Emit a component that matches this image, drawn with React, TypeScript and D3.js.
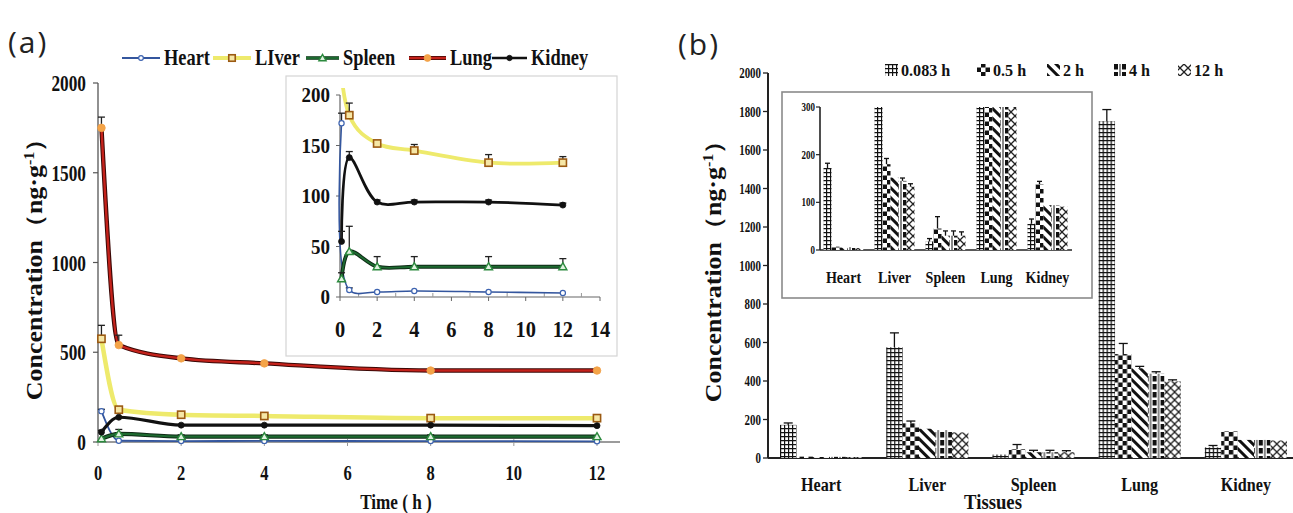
import React from 'react';
import * as d3 from 'd3';

// ---------------- data ----------------
const times = [0.083, 0.5, 2, 4, 8, 12];
const tissueNames = ['Heart', 'Liver', 'Spleen', 'Lung', 'Kidney'];
const legendLabelsA = ['Heart', 'LIver', 'Spleen', 'Lung', 'Kidney'];

const heart = [172, 7, 5, 6, 5, 4];
const heartSd = [10, 2, 1, 1, 1, 1];
const liver = [575, 180, 152, 145, 133, 133];
const liverSd = [75, 12, 3, 6, 8, 6];
const spleen = [18, 45, 30, 30, 30, 30];
const spleenSd = [6, 25, 10, 10, 10, 8];
const lung = [1750, 540, 466, 438, 398, 398];
const lungSd = [60, 55, 10, 10, 8, 8];
const kidney = [55, 138, 94, 94, 94, 91];
const kidneySd = [10, 6, 2, 2, 2, 2];

const barTimeIndex = [0, 1, 2, 3, 5];
const barLegendLabels = ['0.083 h', '0.5 h', '2 h', '4 h', '12 h'];

const yTicksA = [0, 500, 1000, 1500, 2000];
const xTicksA = [0, 2, 4, 6, 8, 10, 12];
const yTicksAInset = [0, 50, 100, 150, 200];
const xTicksAInset = [0, 2, 4, 6, 8, 10, 12, 14];
const yTicksB = [0, 200, 400, 600, 800, 1000, 1200, 1400, 1600, 1800, 2000];
const yTicksBInset = [0, 100, 200, 300];

const seriesValues = [heart, liver, spleen, lung, kidney];
const seriesSd = [heartSd, liverSd, spleenSd, lungSd, kidneySd];

// ---------------- styles ----------------
const SERIF = '"Liberation Serif", "Times New Roman", serif';
const seriesStyle = [
  { line: '#34569e', under: null, width: 1.8, marker: 'circle', mStroke: '#3d63b0', mFill: '#ffffff', mSize: 2.6 },
  { line: '#eeea6c', under: null, width: 4.5, marker: 'square', mStroke: '#9b5a12', mFill: '#f6e7a6', mSize: 3.6 },
  { line: '#1d6a30', under: '#0f2a16', width: 2.2, marker: 'triangle', mStroke: '#2c8a3e', mFill: '#dff1df', mSize: 4 },
  { line: '#c4221b', under: '#3b0806', width: 2.4, marker: 'dot', mStroke: '#f0a048', mFill: '#f4a448', mSize: 3.8 },
  { line: '#111111', under: null, width: 3.2, marker: 'dot', mStroke: '#111', mFill: '#111', mSize: 3 },
];
const patternIds = ['pGrid', 'pCheck', 'pDiag', 'pBlock', 'pLattice'];

// condensed text helper
function CT(props: any) {
  const { x, y, sx = 0.78, size, anchor = 'middle', weight = 'bold', family = SERIF, rotate = 0, fill = '#111', children } = props;
  const tr = `translate(${x},${y}) scale(${sx},1)` + (rotate ? ` rotate(${rotate})` : '');
  return (
    <text transform={tr} fontSize={size} textAnchor={anchor} fontWeight={weight} fontFamily={family} fill={fill}>
      {children}
    </text>
  );
}

function Marker({ type, x, y, st, scale = 1 }: any) {
  const s = st.mSize * scale;
  if (type === 'circle') return <circle cx={x} cy={y} r={s} fill={st.mFill} stroke={st.mStroke} strokeWidth={1.2} />;
  if (type === 'square') return <rect x={x - s} y={y - s} width={2 * s} height={2 * s} fill={st.mFill} stroke={st.mStroke} strokeWidth={1.6} />;
  if (type === 'triangle')
    return <path d={`M${x},${y - s} L${x + s},${y + s * 0.75} L${x - s},${y + s * 0.75} Z`} fill={st.mFill} stroke={st.mStroke} strokeWidth={1.4} />;
  return <circle cx={x} cy={y} r={s} fill={st.mFill} stroke={st.mStroke} strokeWidth={0.8} />;
}

function ErrUp({ x, y0, y1, w = 7, color = '#222' }: any) {
  if (Math.abs(y0 - y1) < 1.5) return null;
  return (
    <g stroke={color} strokeWidth={1.3}>
      <line x1={x} x2={x} y1={y0} y2={y1} />
      <line x1={x - w / 2} x2={x + w / 2} y1={y1} y2={y1} />
    </g>
  );
}

function SeriesLines({ xs, ys, scale = 1, thin = false, curve }: any) {
  return (
    <g>
      {seriesValues.map((vals, si) => {
        const st = seriesStyle[si];
        const gen = d3
          .line<number>()
          .x((_, i) => xs(times[i]))
          .y((d) => ys(d))
          .curve(curve);
        const d = gen(vals) as string;
        const w = thin ? st.width * 0.85 : st.width;
        return (
          <g key={si}>
            {st.under && <path d={d} fill="none" stroke={st.under} strokeWidth={w + 2} />}
            <path d={d} fill="none" stroke={st.line} strokeWidth={w} strokeLinejoin="round" />
            {vals.map((v, i) => (
              <ErrUp key={'e' + i} x={xs(times[i])} y0={ys(v)} y1={ys(v + seriesSd[si][i])} />
            ))}
            {vals.map((v, i) => (
              <Marker key={'m' + i} type={st.marker} x={xs(times[i])} y={ys(v)} st={st} scale={scale} />
            ))}
          </g>
        );
      })}
    </g>
  );
}

function PanelA() {
  const xA = d3.scaleLinear().domain([0, 12]).range([98, 597]);
  const yA = d3.scaleLinear().domain([0, 2000]).range([442, 83]);
  const xAi = d3.scaleLinear().domain([0, 14]).range([340, 600]);
  const yAi = d3.scaleLinear().domain([0, 200]).range([297, 95]);
  const legendX = [122, 213, 306, 409, 492];
  const legendLineW = [38, 38, 33, 37, 35];

  return (
    <g>
      <text x={8} y={53} fontSize={30} fontFamily='"Open Sans", sans-serif' fill="#222" letterSpacing={2}>
        (a)
      </text>

      {/* legend */}
      {legendLabelsA.map((lab, i) => {
        const st = seriesStyle[i];
        const x0 = legendX[i];
        const w = legendLineW[i];
        return (
          <g key={lab}>
            {st.under && <line x1={x0} x2={x0 + w} y1={58} y2={58} stroke={st.under} strokeWidth={st.width + 1.5} />}
            <line x1={x0} x2={x0 + w} y1={58} y2={58} stroke={st.line} strokeWidth={i === 1 ? 4 : i === 0 ? 1.8 : 2.6} />
            <Marker type={st.marker} x={x0 + w / 2} y={58} st={st} scale={0.9} />
            <CT x={x0 + w + 4} y={65} size={23} anchor="start" sx={0.8}>
              {lab}
            </CT>
          </g>
        );
      })}

      {/* main axes */}
      <line x1={98} x2={620} y1={yA(0)} y2={yA(0)} stroke="#7a7a7a" strokeWidth={1.3} />
      <line x1={98} x2={98} y1={yA(0)} y2={yA(2000)} stroke="#555" strokeWidth={1.3} />
      {yTicksA.map((t) => (
        <g key={t}>
          <line x1={93} x2={98} y1={yA(t)} y2={yA(t)} stroke="#555" strokeWidth={1.2} />
          <CT x={86} y={yA(t) + 8} size={24} anchor="end" sx={0.72}>
            {t}
          </CT>
        </g>
      ))}
      {xTicksA.map((t) => (
        <g key={t}>
          <line x1={xA(t)} x2={xA(t)} y1={yA(0) - 3} y2={yA(0) + 4} stroke="#999" strokeWidth={1} />
          <CT x={xA(t)} y={480} size={22} sx={0.75}>
            {t}
          </CT>
        </g>
      ))}
      <CT x={396} y={509} size={22} sx={0.78}>
        Time ( h )
      </CT>
      <CT x={42} y={263} size={26} sx={0.85} rotate={-90}>
        Concentration（ng·g
        <tspan dy={-9} fontSize={16}>-1</tspan>
        <tspan dy={9}>）</tspan>
      </CT>

      <SeriesLines xs={xA} ys={yA} curve={d3.curveMonotoneX} />

      {/* inset */}
      <rect x={286} y={76} width={331} height={280} fill="#fff" stroke="#d4d4d4" strokeWidth={1.2} />
      <defs>
        <clipPath id="clipAi">
          <rect x={336} y={88} width={270} height={215} />
        </clipPath>
      </defs>
      <line x1={xAi(0)} x2={xAi(14)} y1={yAi(0)} y2={yAi(0)} stroke="#666" strokeWidth={1.2} />
      <line x1={xAi(0)} x2={xAi(0)} y1={yAi(0)} y2={yAi(200)} stroke="#666" strokeWidth={1.2} />
      {yTicksAInset.map((t) => (
        <g key={t}>
          <line x1={336} x2={340} y1={yAi(t)} y2={yAi(t)} stroke="#666" />
          <CT x={330} y={yAi(t) + 7} size={20} anchor="end" sx={0.95}>
            {t}
          </CT>
        </g>
      ))}
      {xTicksAInset.map((t) => (
        <g key={t}>
          <line x1={xAi(t)} x2={xAi(t)} y1={yAi(0)} y2={yAi(0) + 4} stroke="#666" />
          <line x1={xAi(t + 1)} x2={xAi(t + 1)} y1={yAi(0) - 4} y2={yAi(0)} stroke="#999" opacity={t < 14 ? 1 : 0} />
          <CT x={xAi(t)} y={337} size={24} sx={0.85}>
            {t}
          </CT>
        </g>
      ))}
      <g clipPath="url(#clipAi)">
        <SeriesLines xs={xAi} ys={yAi} scale={1} thin curve={d3.curveCatmullRom.alpha(0.5)} />
      </g>
    </g>
  );
}

function Patterns() {
  return (
    <defs>
      <pattern id="pGrid" patternUnits="userSpaceOnUse" width={4} height={4}>
        <rect width={4} height={4} fill="#fff" />
        <path d="M0 0.6H4 M0.6 0V4" stroke="#111" strokeWidth={1.2} />
      </pattern>
      <pattern id="pCheck" patternUnits="userSpaceOnUse" width={9} height={9}>
        <rect width={9} height={9} fill="#fff" />
        <rect x={0} y={0} width={4.5} height={4.5} fill="#111" />
        <rect x={4.5} y={4.5} width={4.5} height={4.5} fill="#111" />
      </pattern>
      <pattern id="pDiag" patternUnits="userSpaceOnUse" width={7} height={7} patternTransform="rotate(-45)">
        <rect width={7} height={7} fill="#fff" />
        <rect x={0} y={0} width={3} height={7} fill="#111" />
      </pattern>
      <pattern id="pBlock" patternUnits="userSpaceOnUse" width={8} height={8}>
        <rect width={8} height={8} fill="#fff" />
        <rect x={2} y={0} width={4} height={5.5} fill="#111" />
        <path d="M0.5 0V8 M7.5 0V8" stroke="#888" strokeWidth={1} />
      </pattern>
      <pattern id="pLattice" patternUnits="userSpaceOnUse" width={8} height={8}>
        <rect width={8} height={8} fill="#fff" />
        <path d="M0 0L8 8 M8 0L0 8" stroke="#222" strokeWidth={1.3} />
      </pattern>
    </defs>
  );
}

function Bars({ xOuter, xInner, ys, cap, errW }: any) {
  return (
    <g>
      {tissueNames.map((tn, ti) => (
        <g key={tn} transform={`translate(${xOuter(tn)},0)`}>
          {barTimeIndex.map((idx, bi) => {
            const raw = seriesValues[ti][idx];
            const v = Math.min(raw, cap);
            const x = xInner(barLegendLabels[bi]);
            const w = xInner.bandwidth();
            const top = Math.min(raw + seriesSd[ti][idx], cap);
            return (
              <g key={bi}>
                <rect x={x} y={ys(v)} width={w} height={ys(0) - ys(v)} fill={`url(#${patternIds[bi]})`} />
                {raw < cap && <ErrUp x={x + w / 2} y0={ys(v)} y1={ys(top)} w={errW} color="#111" />}
              </g>
            );
          })}
        </g>
      ))}
    </g>
  );
}

function PanelB() {
  const xB = d3.scaleBand().domain(tissueNames).range([768, 1299]);
  const xBin = d3.scaleBand().domain(barLegendLabels).range([12, xB.bandwidth() - 12]);
  const yB = d3.scaleLinear().domain([0, 2000]).range([458, 73]);
  const xBi = d3.scaleBand().domain(tissueNames).range([818, 1073]);
  const xBiIn = d3.scaleBand().domain(barLegendLabels).range([5.5, xBi.bandwidth() - 5.5]);
  const yBi = d3.scaleLinear().domain([0, 300]).range([250, 107]);
  const legIcon = [885, 977, 1047, 1113, 1178];

  return (
    <g>
      <Patterns />
      <text x={678} y={55} fontSize={30} fontFamily='"Open Sans", sans-serif' fill="#222" letterSpacing={2}>
        (b)
      </text>

      {/* legend */}
      {barLegendLabels.map((lab, i) => (
        <g key={lab}>
          <rect x={legIcon[i]} y={64} width={13} height={12} fill={`url(#${patternIds[i]})`} />
          <CT x={legIcon[i] + 16} y={76} size={17} anchor="start" sx={0.95}>
            {lab}
          </CT>
        </g>
      ))}

      {/* axes */}
      <line x1={768} x2={1293} y1={yB(0)} y2={yB(0)} stroke="#222" strokeWidth={2} />
      <line x1={768} x2={768} y1={yB(0)} y2={yB(2000)} stroke="#222" strokeWidth={2} />
      {yTicksB.map((t) => (
        <g key={t}>
          <line x1={763} x2={768} y1={yB(t)} y2={yB(t)} stroke="#222" strokeWidth={1.3} />
          <CT x={761} y={yB(t) + 5} size={14} anchor="end" sx={0.78}>
            {t}
          </CT>
        </g>
      ))}
      {tissueNames.map((tn) => (
        <CT key={tn} x={(xB(tn) as number) + xB.bandwidth() / 2} y={491} size={19} sx={0.85}>
          {tn}
        </CT>
      ))}
      <CT x={993} y={509} size={22} sx={0.85}>
        Tissues
      </CT>
      <CT x={721} y={265} size={26} sx={0.85} rotate={-90}>
        Concentration（ng·g
        <tspan dy={-9} fontSize={16}>-1</tspan>
        <tspan dy={9}>）</tspan>
      </CT>

      <Bars xOuter={xB} xInner={xBin} ys={yB} cap={2000} errW={9} />

      {/* inset */}
      <rect x={782} y={92} width={310} height={206} fill="#fff" stroke="#8a8a8a" strokeWidth={1.6} />
      <line x1={820} x2={1072} y1={yBi(0)} y2={yBi(0)} stroke="#222" strokeWidth={1.6} />
      <line x1={820} x2={820} y1={yBi(0)} y2={yBi(300)} stroke="#222" strokeWidth={1.6} />
      {yTicksBInset.map((t) => (
        <g key={t}>
          <line x1={816} x2={820} y1={yBi(t)} y2={yBi(t)} stroke="#222" strokeWidth={1.2} />
          <CT x={815} y={yBi(t) + 4} size={12} anchor="end" sx={0.75}>
            {t}
          </CT>
        </g>
      ))}
      {tissueNames.map((tn) => (
        <CT key={tn} x={(xBi(tn) as number) + xBi.bandwidth() / 2} y={283} size={16} sx={0.88}>
          {tn}
        </CT>
      ))}
      <Bars xOuter={xBi} xInner={xBiIn} ys={yBi} cap={300} errW={5} />
    </g>
  );
}

export default function App() {
  return (
    <svg
      width={1293}
      height={513}
      viewBox="0 0 1293 513"
      style={{ position: 'absolute', left: 0, top: 0, background: '#fff' }}
    >
      <rect width={1293} height={513} fill="#fff" />
      <PanelA />
      <PanelB />
    </svg>
  );
}
